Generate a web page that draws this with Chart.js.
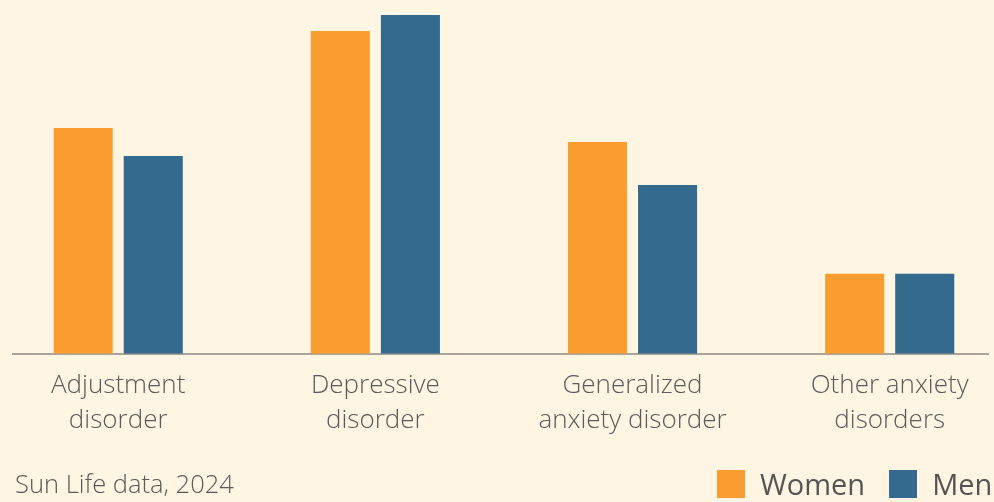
<!DOCTYPE html>
<html>
<head>
<meta charset="utf-8">
<script src="https://cdn.jsdelivr.net/npm/chart.js@4/dist/chart.umd.min.js"></script>
<style>
  html, body { margin: 0; padding: 0; background: #FEF5E2; }
  #wrap { position: relative; width: 994px; height: 502px; overflow: hidden; }
  #chart { position: absolute; left: 0; top: 0; }
  #note { position: absolute; left: 15px; top: 466px; font: 300 25.5px "Open Sans", sans-serif; color: #5b5b5b; white-space: nowrap; }
  #legend { position: absolute; left: 717px; top: 470px; display: flex; align-items: center; gap: 24px; }
  .item { display: flex; align-items: center; height: 28px; }
  .swatch { width: 28px; height: 28px; margin-right: 15px; }
  .label { font: 400 29px "Open Sans", sans-serif; color: #555555; line-height: 28px; white-space: nowrap; }
</style>
</head>
<body>
<div id="wrap">
  <canvas id="chart" width="994" height="502"></canvas>
  <div id="note"></div>
  <div id="legend"></div>
</div>
<script>
// Claim shares by disorder type, women vs men
const categories = [
  ["Adjustment", "disorder"],
  ["Depressive", "disorder"],
  ["Generalized", "anxiety disorder"],
  ["Other anxiety", "disorders"]
];
const women = [22.6, 32.3, 21.2, 8.0];
const men = [19.8, 33.9, 16.9, 8.0];
const seriesNames = ["Women", "Men"];
const footnote = "Sun Life data, 2024";

const ORANGE = "#F99D31";
const BLUE = "#336A8D";
const TEXT = "#5b5b5b";
const seriesColors = [ORANGE, BLUE];

document.getElementById("note").textContent = footnote;

// Legend row under the chart
const legendEl = document.getElementById("legend");
seriesNames.forEach((name, i) => {
  const item = document.createElement("div");
  item.className = "item";
  const sw = document.createElement("span");
  sw.className = "swatch";
  sw.style.background = seriesColors[i];
  const lb = document.createElement("span");
  lb.className = "label";
  lb.textContent = name;
  item.append(sw, lb);
  legendEl.append(item);
});

const points = arr => arr.map((v, i) => ({ x: i, y: v }));

new Chart(document.getElementById("chart"), {
  type: "bar",
  data: {
    datasets: [
      { label: seriesNames[0], data: points(women), backgroundColor: ORANGE, borderWidth: 0 },
      { label: seriesNames[1], data: points(men), backgroundColor: BLUE, borderWidth: 0 }
    ]
  },
  options: {
    responsive: false,
    animation: false,
    devicePixelRatio: 1,
    categoryPercentage: 0.545,
    barPercentage: 0.843,
    layout: { padding: { left: 13, right: 6, top: 0, bottom: 50 } },
    scales: {
      x: {
        type: "linear",
        offset: false,
        min: -0.40907,
        max: 3.38223,
        grid: { display: false, drawTicks: false, offset: false },
        border: { display: true, color: "#A9A49C", width: 2 },
        afterBuildTicks: axis => { axis.ticks = categories.map((_, i) => ({ value: i })); },
        ticks: {
          autoSkip: false,
          maxRotation: 0,
          minRotation: 0,
          padding: 14,
          color: TEXT,
          font: { family: "'Open Sans', sans-serif", size: 26, weight: 300, lineHeight: 1.35 },
          callback: v => categories[v]
        }
      },
      y: {
        display: false,
        min: 0,
        max: 35.4
      }
    },
    plugins: {
      tooltip: { enabled: false },
      legend: { display: false }
    }
  }
});
</script>
</body>
</html>
